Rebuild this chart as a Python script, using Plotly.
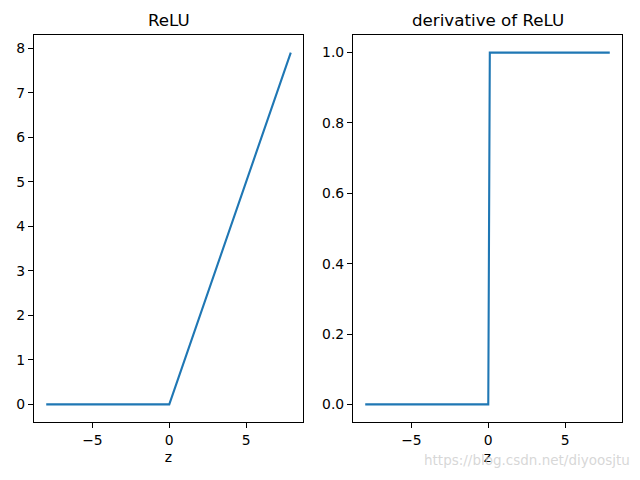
import plotly.graph_objects as go

# data
z_relu = [-8.0, 0.0, 7.9]
relu = [0.0, 0.0, 7.9]
z_deriv = [-8.0, 0.0, 0.1, 7.9]
deriv = [0.0, 0.0, 1.0, 1.0]

relu_yticks = [0, 1, 2, 3, 4, 5, 6, 7, 8]
deriv_yticks = [0.0, 0.2, 0.4, 0.6, 0.8, 1.0]
deriv_yticklabels = ["0.0", "0.2", "0.4", "0.6", "0.8", "1.0"]
xticks = [-5, 0, 5]
xticklabels = ["\u22125", "0", "5"]

W, H = 640, 480
color = "#1f77b4"
font = "DejaVu Sans"

fig = go.Figure()
fig.add_trace(go.Scatter(x=z_relu, y=relu, mode="lines",
                         line=dict(color=color, width=2.1), xaxis="x", yaxis="y", showlegend=False))
fig.add_trace(go.Scatter(x=z_deriv, y=deriv, mode="lines",
                         line=dict(color=color, width=2.1), xaxis="x2", yaxis="y2", showlegend=False))

ydom = [1 - 422 / H, 1 - 35 / H]
common_axis = dict(showgrid=False, zeroline=False, showline=True, linecolor="black", linewidth=1.1,
                   mirror=True, ticks="outside", ticklen=5, tickwidth=1.1, tickcolor="black",
                   tickfont=dict(family=font, size=13.9, color="black"))

xr = [-8.795, 8.695]
fig.update_layout(
    width=W, height=H,
    margin=dict(l=0, r=0, t=0, b=0),
    paper_bgcolor="white", plot_bgcolor="white",
    font=dict(family=font, color="black"),
    xaxis=dict(domain=[34 / W, 303 / W], range=xr, tickvals=xticks, ticktext=xticklabels,
               title=dict(text="z", font=dict(family=font, size=13.9), standoff=5), anchor="y", **common_axis),
    yaxis=dict(domain=ydom, range=[-0.395, 8.295], tickvals=relu_yticks, anchor="x", **common_axis),
    xaxis2=dict(domain=[353 / W, 622 / W], range=xr, tickvals=xticks, ticktext=xticklabels,
                title=dict(text="z", font=dict(family=font, size=13.9), standoff=5), anchor="y2", **common_axis),
    yaxis2=dict(domain=ydom, range=[-0.05, 1.05], tickvals=deriv_yticks, ticktext=deriv_yticklabels,
                anchor="x2", **common_axis),
    annotations=[
        dict(text="ReLU", x=(34 + 303) / 2 / W, y=1 - 20 / H, xref="paper", yref="paper",
             xanchor="center", yanchor="middle", showarrow=False, font=dict(family=font, size=16.7)),
        dict(text="derivative of ReLU", x=(353 + 622) / 2 / W, y=1 - 20 / H, xref="paper", yref="paper",
             xanchor="center", yanchor="middle", showarrow=False, font=dict(family=font, size=16.7)),
        dict(text="https://blog.csdn.net/diyoosjtu", x=632 / W, y=1 - 460 / H, xref="paper", yref="paper",
             xanchor="right", yanchor="middle", showarrow=False,
             font=dict(family=font, size=13.5, color="rgba(205,205,205,0.8)")),
    ],
)

fig.write_html("out.html")
